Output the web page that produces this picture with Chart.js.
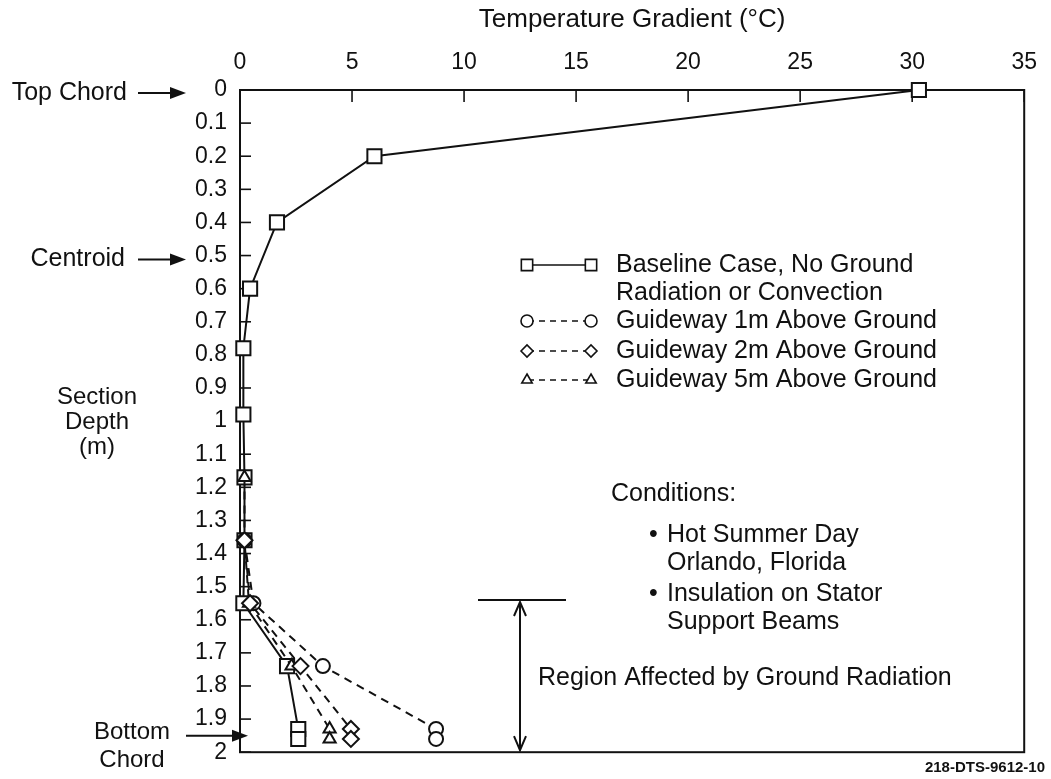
<!DOCTYPE html>
<html>
<head>
<meta charset="utf-8">
<title>Temperature Gradient vs Section Depth</title>
<script src="https://cdn.jsdelivr.net/npm/chart.js@4/dist/chart.umd.min.js"></script>
<style>
  html, body { margin: 0; padding: 0; background: #fff; }
  #wrap { width: 1051px; height: 779px; }
</style>
</head>
<body>
<div id="wrap"><canvas id="c" width="1051" height="779"></canvas></div>
<script>
"use strict";

// depth (m) down the section, temperature gradient (°C)
const depthBaseline = [0, 0.2, 0.4, 0.6, 0.78, 0.98, 1.17, 1.36, 1.55, 1.74, 1.93, 1.96];
const baseline      = [30.3, 6.0, 1.65, 0.45, 0.15, 0.15, 0.2, 0.2, 0.15, 2.1, 2.6, 2.6];

const depth1m    = [1.36, 1.55, 1.74, 1.93, 1.96];
const guideway1m = [0.2, 0.6, 3.7, 8.75, 8.75];
const depth2m    = [1.36, 1.55, 1.74, 1.93, 1.96];
const guideway2m = [0.2, 0.45, 2.7, 4.95, 4.95];
const depth5m    = [1.17, 1.36, 1.55, 1.74, 1.93, 1.96];
const guideway5m = [0.2, 0.2, 0.4, 2.3, 4.0, 4.0];

const xTicks = [0, 5, 10, 15, 20, 25, 30, 35];
const yTicks = [0, 0.1, 0.2, 0.3, 0.4, 0.5, 0.6, 0.7, 0.8, 0.9, 1, 1.1, 1.2, 1.3, 1.4, 1.5, 1.6, 1.7, 1.8, 1.9, 2];

const legendText = [
  ["Baseline Case, No Ground", "Radiation or Convection"],
  ["Guideway 1m Above Ground"],
  ["Guideway 2m Above Ground"],
  ["Guideway 5m Above Ground"],
];

const FONT = "'Liberation Sans', Arial, Helvetica, sans-serif";
const INK = "#111";

function pts(xs, ys) { return xs.map((x, i) => ({ x, y: ys[i] })); }

function series(label, data, style, radius, dashed, order) {
  return {
    label, data, order,
    showLine: true, clip: false,
    borderColor: INK, borderWidth: 2,
    borderDash: dashed ? [8, 6] : [],
    pointStyle: style, pointRadius: radius, pointHoverRadius: radius,
    pointBorderColor: INK, pointBackgroundColor: "#fff", pointBorderWidth: 2,
  };
}

function arrowRight(ctx, x1, x2, y) {
  ctx.beginPath(); ctx.moveTo(x1, y); ctx.lineTo(x2 - 10, y); ctx.stroke();
  ctx.beginPath(); ctx.moveTo(x2, y); ctx.lineTo(x2 - 16, y - 6); ctx.lineTo(x2 - 16, y + 6); ctx.closePath(); ctx.fill();
}

const decor = {
  id: "decor",
  beforeDatasetsDraw(chart) {
    const { ctx, chartArea: a, scales } = chart;
    ctx.save();
    ctx.strokeStyle = INK; ctx.lineWidth = 2;
    ctx.strokeRect(a.left, a.top, a.right - a.left, a.bottom - a.top);
    ctx.lineWidth = 1.6;
    // inward tick marks
    scales.y.ticks.forEach((t) => {
      const py = scales.y.getPixelForValue(t.value);
      ctx.beginPath(); ctx.moveTo(a.left, py); ctx.lineTo(a.left + 11, py); ctx.stroke();
    });
    scales.x.ticks.forEach((t) => {
      const px = scales.x.getPixelForValue(t.value);
      ctx.beginPath(); ctx.moveTo(px, a.top); ctx.lineTo(px, a.top + 12); ctx.stroke();
    });
    ctx.restore();
  },
  afterDraw(chart) {
    const { ctx, chartArea: a, scales } = chart;
    const y = scales.y;
    ctx.save();
    ctx.fillStyle = INK; ctx.strokeStyle = INK; ctx.lineWidth = 2;
    ctx.font = "25px " + FONT;
    ctx.textBaseline = "middle";

    // left side labels
    ctx.textAlign = "right";
    ctx.fillText("Top Chord", 127, y.getPixelForValue(0) + 3);
    arrowRight(ctx, 138, 186, y.getPixelForValue(0) + 3);
    ctx.fillText("Centroid", 125, y.getPixelForValue(0.5) + 4);
    arrowRight(ctx, 138, 186, y.getPixelForValue(0.5) + 4);
    ctx.textAlign = "center";
    ctx.font = "24px " + FONT;
    ctx.fillText("Section", 97, 397);
    ctx.fillText("Depth", 97, 422);
    ctx.fillText("(m)", 97, 447);
    ctx.fillText("Bottom", 132, 732);
    ctx.fillText("Chord", 132, 760);
    arrowRight(ctx, 186, a.left + 8, y.getPixelForValue(1.95));

    // legend
    ctx.font = "25px " + FONT;
    ctx.textAlign = "left";
    const rows = [265, 321, 351, 380];
    chart.data.datasets.forEach((ds, i) => {
      const ry = rows[i];
      ctx.save();
      ctx.lineWidth = 1.6;
      ctx.setLineDash(ds.borderDash.length ? [6, 5] : []);
      ctx.beginPath(); ctx.moveTo(528, ry); ctx.lineTo(590, ry); ctx.stroke();
      ctx.setLineDash([]);
      ctx.fillStyle = "#fff";
      const r = ds.pointStyle === "rect" ? 8 : 6;
      [527, 591].forEach((mx) => {
        Chart.helpers.drawPoint(ctx, { pointStyle: ds.pointStyle, radius: r, borderWidth: 1.6, rotation: 0 }, mx, ry);
      });
      ctx.restore();
      legendText[i].forEach((line, k) => ctx.fillText(line, 616, ry + k * 28));
    });

    // conditions
    ctx.fillText("Conditions:", 611, 494);
    ctx.fillText("•", 649, 535);
    ctx.fillText("Hot Summer Day", 667, 535);
    ctx.fillText("Orlando, Florida", 667, 563);
    ctx.fillText("•", 649, 594);
    ctx.fillText("Insulation on Stator", 667, 594);
    ctx.fillText("Support Beams", 667, 622);

    // region bracket
    const top = 600, ax = 520;
    ctx.lineWidth = 2;
    ctx.beginPath(); ctx.moveTo(478, top); ctx.lineTo(566, top); ctx.stroke();
    ctx.beginPath(); ctx.moveTo(ax, top + 2); ctx.lineTo(ax, a.bottom - 2); ctx.stroke();
    ctx.beginPath();
    ctx.moveTo(ax - 6, top + 16); ctx.lineTo(ax, top + 2); ctx.lineTo(ax + 6, top + 16);
    ctx.moveTo(ax - 6, a.bottom - 16); ctx.lineTo(ax, a.bottom - 2); ctx.lineTo(ax + 6, a.bottom - 16);
    ctx.stroke();
    ctx.fillText("Region Affected by Ground Radiation", 538, 678);

    ctx.font = "bold 15px " + FONT;
    ctx.textAlign = "right";
    ctx.fillText("218-DTS-9612-10", 1045, 768);
    ctx.restore();
  },
};

new Chart(document.getElementById("c"), {
  type: "scatter",
  data: {
    datasets: [
      series("Baseline Case, No Ground Radiation or Convection", pts(baseline, depthBaseline), "rect", 10, false, 3),
      series("Guideway 1m Above Ground", pts(guideway1m, depth1m), "circle", 7, true, 2),
      series("Guideway 2m Above Ground", pts(guideway2m, depth2m), "rectRot", 8, true, 0),
      series("Guideway 5m Above Ground", pts(guideway5m, depth5m), "triangle", 7, true, 1),
    ],
  },
  options: {
    responsive: false,
    animation: false,
    devicePixelRatio: 1,
    layout: { padding: { left: 0, top: 0, right: 22, bottom: 21 } },
    plugins: { legend: { display: false }, tooltip: { enabled: false } },
    scales: {
      x: {
        type: "linear", position: "top", min: 0, max: 35,
        afterBuildTicks: (s) => { s.ticks = xTicks.map((v) => ({ value: v })); },
        afterFit: (s) => { s.height = 90; },
        grid: { display: false, drawTicks: false },
        border: { display: true, color: INK, width: 2 },
        ticks: { color: INK, font: { size: 23, family: FONT }, padding: 14, maxRotation: 0 },
        title: { display: true, text: "Temperature Gradient (°C)", color: INK,
                 font: { size: 26, family: FONT }, padding: { top: 4, bottom: 0 } },
      },
      y: {
        type: "linear", reverse: true, min: 0, max: 2,
        afterBuildTicks: (s) => { s.ticks = yTicks.map((v) => ({ value: v })); },
        afterFit: (s) => { s.width = 240; },
        grid: { display: false, drawTicks: false },
        border: { display: true, color: INK, width: 2 },
        ticks: { color: INK, font: { size: 23, family: FONT }, padding: 13, autoSkip: false,
                 callback: (v) => String(Math.round(v * 10) / 10) },
      },
    },
  },
  plugins: [decor],
});
</script>
</body>
</html>
